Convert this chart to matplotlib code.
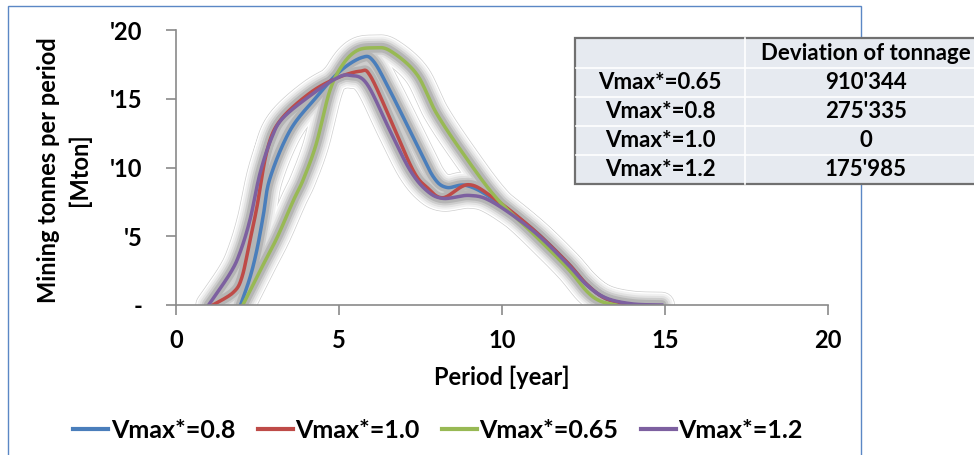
import numpy as np
import matplotlib
matplotlib.use("Agg")
import matplotlib.pyplot as plt
from matplotlib.patches import Rectangle

plt.rcParams["font.family"] = ["Lato", "DejaVu Sans"]
plt.rcParams["font.weight"] = "bold"

# series (period in years, tonnes in Mton)
x_08 = [1.98, 2.27, 2.48, 2.67, 2.88, 3.5, 4.3, 5.03, 5.7, 6.05, 6.56, 7.38, 7.9,
        8.3, 8.9, 9.7, 10.95, 12.0, 12.6, 13.2, 14.0]
y_08 = [0, 2.0, 4.0, 6.4, 9.2, 12.7, 15.1, 17.0, 18.0, 17.75, 15.6, 11.7, 9.3,
        8.55, 8.7, 7.75, 5.5, 3.1, 1.5, 0.45, 0]

x_10 = [1.13, 1.75, 2.02, 2.27, 2.48, 2.79, 3.19, 4.1, 4.93, 5.64, 5.95, 6.56, 7.27,
        7.7, 8.19, 8.96, 9.73, 10.95, 12.0, 12.6, 13.2, 14.0]
y_10 = [0, 0.9, 2.0, 4.7, 7.1, 11.2, 13.4, 15.4, 16.5, 17.0, 16.7, 13.6, 9.8,
        8.55, 7.8, 8.75, 7.8, 5.5, 3.1, 1.5, 0.45, 0]

x_065 = [2.05, 2.58, 3.1, 3.6, 3.9, 4.3, 4.72, 5.12, 5.55, 6.05, 6.56, 7.38, 8.0,
         8.9, 9.84, 10.95, 12.0, 12.6, 13.0, 13.5]
y_065 = [0, 2.5, 4.9, 7.6, 9.1, 11.7, 15.6, 17.5, 18.5, 18.7, 18.5, 16.8, 13.9,
         10.7, 7.75, 5.2, 2.7, 1.0, 0.3, 0]

x_12 = [1.0, 1.66, 1.96, 2.27, 2.58, 2.94, 3.28, 4.1, 4.93, 5.34, 5.85, 6.56, 7.18,
        7.7, 8.2, 9.0, 9.7, 10.95, 12.0, 12.6, 13.2, 14.0, 14.9]
y_12 = [0, 2.3, 3.8, 6.2, 9.6, 12.2, 13.6, 15.2, 16.5, 16.7, 16.1, 12.7, 9.8,
        8.3, 7.75, 7.97, 7.5, 5.4, 3.0, 1.45, 0.5, 0.08, 0]

labels = ["Vmax*=0.8", "Vmax*=1.0", "Vmax*=0.65", "Vmax*=1.2"]
colors = ["#4a7ebb", "#be4b48", "#98b954", "#7d60a0"]

y_ticks = [0, 5, 10, 15, 20]
y_tick_labels = ["-", "'5", "'10", "'15", "'20"]
x_ticks = [0, 5, 10, 15, 20]

table_rows = ["Vmax*=0.65", "Vmax*=0.8", "Vmax*=1.0", "Vmax*=1.2"]
table_values = ["910'344", "275'335", "0", "175'985"]
table_header = "Deviation of tonnage"


def smooth(xs, ys, n=20):
    # Excel-like smoothed line: bezier through the points
    p = np.column_stack([xs, ys]).astype(float)
    p = np.vstack([p[0], p, p[-1]])
    out = []
    t = np.linspace(0, 1, n, endpoint=False)[:, None]
    for i in range(1, len(p) - 2):
        p0, p1, p2, p3 = p[i - 1], p[i], p[i + 1], p[i + 2]
        c1 = p1 + (p2 - p0) / 6
        c2 = p2 - (p3 - p1) / 6
        seg = ((1 - t) ** 3) * p1 + 3 * ((1 - t) ** 2) * t * c1 \
            + 3 * (1 - t) * t ** 2 * c2 + t ** 3 * p2
        out.append(seg)
    out.append(p[-2][None, :])
    out = np.vstack(out)
    return out[:, 0], np.clip(out[:, 1], 0, None)


fig = plt.figure(figsize=(9.74, 4.55), dpi=100)
ax = fig.add_axes([176 / 974, 1 - 305 / 455, (828 - 176) / 974, (305 - 30) / 455])

series = [(x_08, y_08), (x_10, y_10), (x_065, y_065), (x_12, y_12)]
curves = [smooth(xs, ys) for xs, ys in series]

# soft grey glow under all lines, one layer at a time so they merge
glow = [(19, "#cfcfcf"), (18, "white"), (16, "#f1f1f1"), (13, "#e2e2e2"),
        (10, "#cdcdcd"), (7, "#b5b5b5")]
for w, c in glow:
    for sx, sy in curves:
        ax.plot(sx, sy, color=c, lw=w, solid_capstyle="round", zorder=1)

for (sx, sy), lab, col in zip(curves, labels, colors):
    ax.plot(sx, sy, color=col, lw=2.5, label=lab, zorder=3)

ax.set_xlim(0, 20)
ax.set_ylim(0, 20)
ax.set_xticks(x_ticks)
ax.set_yticks(y_ticks)
ax.set_yticklabels(y_tick_labels)
for s in ["top", "right"]:
    ax.spines[s].set_visible(False)
for s in ["left", "bottom"]:
    ax.spines[s].set_color("#8a8a8a")
    ax.spines[s].set_linewidth(1.2)
    ax.spines[s].set_zorder(4)
ax.tick_params(axis="both", colors="#8a8a8a", length=7, width=1.2,
               labelcolor="black", labelsize=17)
ax.tick_params(axis="y", pad=17)
ax.tick_params(axis="x", pad=10)

ax.set_xlabel("Period [year]", fontsize=17, fontweight="bold", labelpad=10)
fig.text(64 / 974, 1 - 170 / 455, "Mining tonnes per period\n[Mton]",
         rotation=90, ha="center", va="center", fontsize=17, fontweight="bold",
         linespacing=1.4, multialignment="center")

ax.legend(loc="center", bbox_to_anchor=(438 / 974, 1 - 430 / 455),
          bbox_transform=fig.transFigure, ncol=4, frameon=False, fontsize=18,
          handlelength=1.4, handletextpad=0.1, columnspacing=0.9)
for ln in ax.get_legend().get_lines():
    ln.set_linewidth(3)

# outer chart border
fig.add_artist(Rectangle((8 / 974, -0.05), (861 - 8) / 974, 1.05 - 6 / 455,
                         transform=fig.transFigure, fill=False,
                         edgecolor="#5b87c5", lw=1.0))

# deviation table
tab = fig.add_axes([0, 0, 1, 1], zorder=5)
tab.set_xlim(0, 974)
tab.set_ylim(455, 0)
tab.axis("off")
row_h = 29
top = 38
tab.add_patch(Rectangle((575, top), 430, 30 + 4 * row_h, facecolor="#e6eaf0",
                        edgecolor="#707070", lw=1.6, clip_on=False))
tab.plot([745, 745], [top, top + 30 + 4 * row_h], color="white", lw=1.2)
tab.text(866, top + 15, table_header, ha="center", va="center", fontsize=16,
         fontweight="bold")
for i, (r, v) in enumerate(zip(table_rows, table_values)):
    y0 = top + 30 + i * row_h
    tab.plot([576, 974], [y0, y0], color="white", lw=1.2)
    tab.text(660, y0 + row_h / 2, r, ha="center", va="center", fontsize=16,
             fontweight="bold")
    tab.text(866, y0 + row_h / 2, v, ha="center", va="center", fontsize=16,
             fontweight="bold")

fig.savefig("out.png", dpi=100)
